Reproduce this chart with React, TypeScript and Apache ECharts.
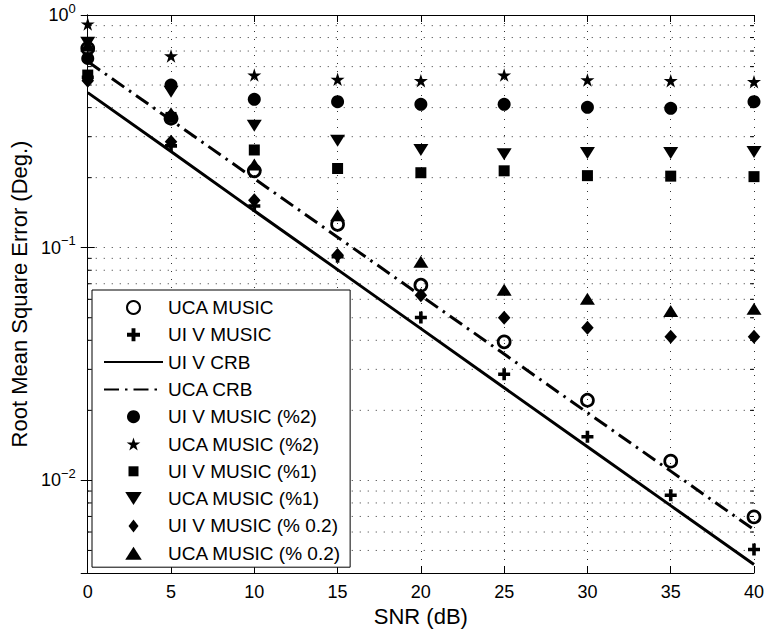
import React, { useEffect, useRef } from 'react';
import * as echarts from 'echarts';

// ---------- data ----------
const snr = [0, 5, 10, 15, 20, 25, 30, 35, 40];

const ucaMusic = [0.719, 0.36, 0.214, 0.126, 0.069, 0.0394, 0.0221, 0.0121, 0.00697];
const uivMusic = [0.54, 0.274, 0.151, 0.0914, 0.0501, 0.0286, 0.0154, 0.00863, 0.00505];
const uivCrb = [0.464, 0.259, 0.144, 0.0805, 0.0449, 0.025, 0.01396, 0.00779, 0.00435];
const ucaCrb = [0.631, 0.3535, 0.198, 0.111, 0.0622, 0.0349, 0.01954, 0.01096, 0.00614];
const uivMusic2 = [0.651, 0.5, 0.434, 0.424, 0.413, 0.413, 0.401, 0.397, 0.424];
const ucaMusic2 = [0.915, 0.667, 0.552, 0.529, 0.522, 0.552, 0.526, 0.522, 0.517];
const uivMusic1 = [0.552, 0.363, 0.263, 0.219, 0.21, 0.214, 0.204, 0.203, 0.202];
const ucaMusic1 = [0.76, 0.468, 0.334, 0.288, 0.263, 0.252, 0.255, 0.255, 0.258];
const uivMusic02 = [0.522, 0.285, 0.16, 0.093, 0.0625, 0.05, 0.0453, 0.0414, 0.0414];
const ucaMusic02 = [0.74, 0.378, 0.228, 0.138, 0.087, 0.066, 0.0603, 0.0534, 0.0547];

const minorGridValues = [
  0.005, 0.006, 0.007, 0.008, 0.009,
  0.02, 0.03, 0.04, 0.05, 0.06, 0.07, 0.08, 0.09,
  0.2, 0.3, 0.4, 0.5, 0.6, 0.7, 0.8, 0.9,
];

const legendNames = [
  'UCA MUSIC',
  'UI V MUSIC',
  'UI V CRB',
  'UCA CRB',
  'UI V MUSIC (%2)',
  'UCA MUSIC (%2)',
  'UI V MUSIC (%1)',
  'UCA MUSIC (%1)',
  'UI V MUSIC (% 0.2)',
  'UCA MUSIC (% 0.2)',
];
const lineNames = ['UI V CRB', 'UCA CRB'];

// ---------- styling ----------
const FONT = '"Liberation Sans", Arial, Helvetica, sans-serif';
const STAR =
  'path://M50,0L61.23,34.55L97.55,34.55L68.17,55.9L79.39,90.45L50,69.1L20.61,90.45L31.83,55.9L2.45,34.55L38.77,34.55Z';
const PLUS = 'path://M3.5,0H6.5V3.5H10V6.5H6.5V10H3.5V6.5H0V3.5H3.5Z';
// square with invisible padding points so that the legend icon stays small
const SQUARE = 'path://M0,0L0,0M1.5,1.5H11.5V11.5H1.5ZM13,13L13,13';
const TRI_UP = 'path://M7,0L14,11H0Z';
const TRI_DOWN = 'path://M0,0H14L7,11Z';
const DIAMOND = 'path://M5,0L10,6.5L5,13L0,6.5Z';
const GRID_DASH = [1, 7];
const GRID_COLOR = '#333';
const LINE_W = 3;

const pairs = (ys: number[]) => snr.map((x, i) => [x, ys[i]]);

const scatter = (name: string, ys: number[], symbol: string, size: any, itemStyle: any = {}) => ({
  name,
  type: 'scatter',
  data: pairs(ys),
  symbol,
  symbolSize: size,
  clip: false,
  z: 3,
  itemStyle: { color: '#000', opacity: 1, ...itemStyle },
});

function supLabel(v: number) {
  const l = Math.log10(v);
  const e = Math.round(l);
  if (Math.abs(l - e) > 1e-6) return '';
  const s = e === 0 ? '0' : '\u2212' + String(-e);
  return `{b|10}{s|${s}}`;
}

export default function App() {
  const ref = useRef<HTMLDivElement>(null);

  useEffect(() => {
    if (!ref.current) return;
    const chart = echarts.init(ref.current, undefined, { renderer: 'svg' });

    const option: any = {
      animation: false,
      backgroundColor: '#fff',
      textStyle: { fontFamily: FONT, color: '#000' },
      grid: { left: 86, top: 15, width: 668, height: 558, containLabel: false },
      legend: {
        orient: 'vertical',
        left: 92,
        top: 290,
        padding: [8, 9, 4.5, 11],
        itemWidth: 59,
        itemHeight: 13,
        itemGap: 8.3,
        backgroundColor: '#fff',
        borderColor: '#000',
        borderWidth: 1,
        borderRadius: 0,
        selectedMode: false,
        textStyle: { fontFamily: FONT, fontSize: 19, color: '#000', lineHeight: 19 },
        data: legendNames.map((n) =>
          lineNames.includes(n) ? { name: n, itemStyle: { opacity: 0 } } : { name: n }
        ),
      },
      xAxis: [
        {
          type: 'value',
          min: 0,
          max: 40,
          interval: 5,
          position: 'bottom',
          axisLine: { lineStyle: { color: '#000', width: 1 } },
          axisTick: { inside: true, length: 7, lineStyle: { color: '#000' } },
          axisLabel: { color: '#000', fontSize: 18, fontFamily: FONT, margin: 10 },
          splitLine: { show: true, lineStyle: { color: GRID_COLOR, type: GRID_DASH, width: 1 } },
          name: 'SNR (dB)',
          nameLocation: 'middle',
          nameGap: 23,
          nameTextStyle: { fontSize: 22, fontFamily: FONT, color: '#000' },
        },
        {
          type: 'value',
          min: 0,
          max: 40,
          interval: 5,
          position: 'top',
          axisLine: { lineStyle: { color: '#000', width: 1 } },
          axisTick: { inside: true, length: 7, lineStyle: { color: '#000' } },
          axisLabel: { show: false },
          splitLine: { show: false },
        },
      ],
      yAxis: [
        {
          type: 'log',
          logBase: 10,
          min: 0.004,
          max: 1,
          position: 'left',
          axisLine: { lineStyle: { color: '#000', width: 1 } },
          axisTick: { inside: true, length: 7, lineStyle: { color: '#000' } },
          axisLabel: {
            formatter: supLabel,
            margin: 12,
            rich: {
              b: { fontSize: 18, fontFamily: FONT, color: '#000' },
              s: { fontSize: 13, fontFamily: FONT, color: '#000', padding: [0, 0, 14, 0] },
            },
          },
          splitLine: { show: true, lineStyle: { color: GRID_COLOR, type: GRID_DASH, width: 1 } },
          name: 'Root Mean Square Error (Deg.)',
          nameLocation: 'middle',
          nameGap: 52,
          nameRotate: 90,
          nameTextStyle: { fontSize: 22, fontFamily: FONT, color: '#000' },
        },
        {
          type: 'log',
          logBase: 10,
          min: 0.004,
          max: 1,
          position: 'right',
          axisLine: { lineStyle: { color: '#000', width: 1 } },
          axisTick: { inside: true, length: 7, lineStyle: { color: '#000' } },
          axisLabel: { show: false },
          splitLine: { show: false },
        },
      ],
      series: [
        {
          type: 'custom',
          name: 'minor grid',
          silent: true,
          z: 1,
          clip: false,
          data: minorGridValues.map((v) => [0, v]),
          renderItem: (params: any, api: any) => {
            const v = api.value(1);
            const a = api.coord([0, v]);
            const b = api.coord([40, v]);
            return {
              type: 'group',
              children: [
                {
                  type: 'line',
                  shape: { x1: a[0], y1: a[1], x2: b[0], y2: b[1] },
                  style: { stroke: GRID_COLOR, lineWidth: 1, lineDash: GRID_DASH },
                },
                {
                  type: 'line',
                  shape: { x1: a[0], y1: a[1], x2: a[0] + 4, y2: a[1] },
                  style: { stroke: '#000', lineWidth: 1 },
                },
                {
                  type: 'line',
                  shape: { x1: b[0] - 4, y1: b[1], x2: b[0], y2: b[1] },
                  style: { stroke: '#000', lineWidth: 1 },
                },
              ],
            };
          },
        },
        scatter('UCA MUSIC', ucaMusic, 'circle', 12, {
          color: 'rgba(255,255,255,0)',
          borderColor: '#000',
          borderWidth: 2.7,
        }),
        scatter('UI V MUSIC', uivMusic, PLUS, 12),
        {
          name: 'UI V CRB',
          type: 'line',
          data: pairs(uivCrb),
          symbol: 'none',
          z: 3,
          lineStyle: { color: '#000', width: LINE_W },
          itemStyle: { color: '#000' },
        },
        {
          name: 'UCA CRB',
          type: 'line',
          data: pairs(ucaCrb),
          symbol: 'none',
          z: 3,
          lineStyle: { color: '#000', width: LINE_W, type: [15, 6, 2.5, 6] },
          itemStyle: { color: '#000' },
        },
        scatter('UI V MUSIC (%2)', uivMusic2, 'circle', 13),
        scatter('UCA MUSIC (%2)', ucaMusic2, STAR, [14, 13.5]),
        scatter('UI V MUSIC (%1)', uivMusic1, SQUARE, 14.3),
        scatter('UCA MUSIC (%1)', ucaMusic1, TRI_DOWN, [15, 12]),
        scatter('UI V MUSIC (% 0.2)', uivMusic02, DIAMOND, [12.5, 14]),
        scatter('UCA MUSIC (% 0.2)', ucaMusic02, TRI_UP, [15, 12]),
      ],
    };

    chart.setOption(option);
    return () => chart.dispose();
  }, []);

  return (
    <div
      ref={ref}
      style={{ position: 'fixed', left: 0, top: 0, width: 768, height: 635, background: '#fff' }}
    />
  );
}
